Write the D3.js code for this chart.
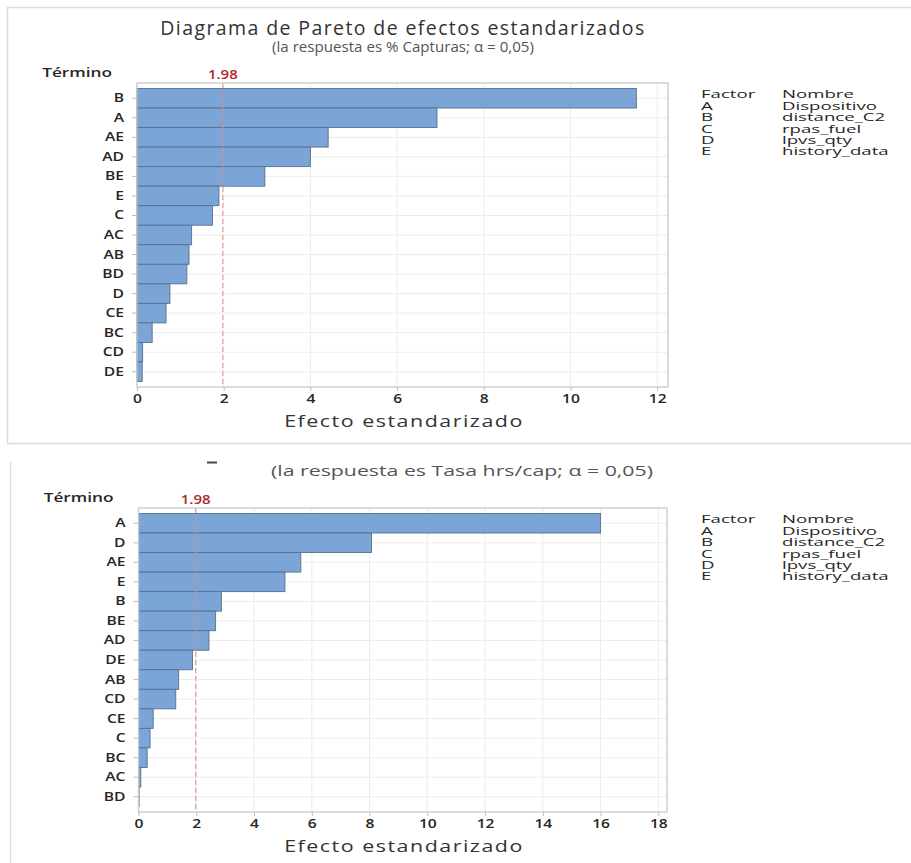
<!DOCTYPE html>
<html>
<head>
<meta charset="utf-8">
<script src="https://cdn.jsdelivr.net/npm/d3@7"></script>
<style>
  html, body { margin: 0; padding: 0; background: #ffffff; }
  svg { display: block; font-family: "Open Sans", "Noto Sans", sans-serif; }
</style>
</head>
<body>
<svg id="chart" width="911" height="863"></svg>
<script>
// Pareto of standardized effects, two responses
const termsCapturas = ["B", "A", "AE", "AD", "BE", "E", "C", "AC", "AB", "BD", "D", "CE", "BC", "CD", "DE"];
const effectsCapturas = [11.52, 6.92, 4.41, 4.0, 2.95, 1.89, 1.74, 1.26, 1.2, 1.15, 0.76, 0.67, 0.35, 0.13, 0.12];
const ticksCapturas = [0, 2, 4, 6, 8, 10, 12];

const termsTasa = ["A", "D", "AE", "E", "B", "BE", "AD", "DE", "AB", "CD", "CE", "C", "BC", "AC", "BD"];
const effectsTasa = [16.0, 8.07, 5.62, 5.07, 2.87, 2.67, 2.44, 1.87, 1.39, 1.29, 0.51, 0.4, 0.3, 0.08, 0.02];
const ticksTasa = [0, 2, 4, 6, 8, 10, 12, 14, 16, 18];

const criticalValue = 1.98;

const factorCodes = ["A", "B", "C", "D", "E"];
const factorNames = ["Dispositivo", "distance_C2", "rpas_fuel", "lpvs_qty", "history_data"];

const svg = d3.select("#chart");

const BAR_FILL = "#7ba5d7";
const BAR_STROKE = "#56708f";
const GRID = "#ececec";
const FRAME = "#c9c9c9";
const TEXT = "#262626";
const RED = "#b02a2a";

// widen text horizontally around its own anchor point
function widen(sel, sx) {
  sel.each(function () {
    const t = d3.select(this);
    const x0 = +t.attr("x") || 0;
    t.attr("transform", `matrix(${sx},0,0,1,${x0 * (1 - sx)},0)`);
  });
  return sel;
}

// panel outlines
svg.append("path")
  .attr("d", "M911,7.5 H7.5 V443.5 H911")
  .attr("fill", "none").attr("stroke", "#dcdcdc").attr("stroke-width", 1.5);
svg.append("line")
  .attr("x1", 10.5).attr("x2", 10.5).attr("y1", 462).attr("y2", 863)
  .attr("stroke", "#dcdcdc").attr("stroke-width", 1.5);

// titles
svg.append("text")
  .attr("x", 403).attr("y", 35)
  .attr("text-anchor", "middle")
  .attr("font-size", 19.5).attr("letter-spacing", 1.4)
  .attr("fill", "#333").text("Diagrama de Pareto de efectos estandarizados");
widen(svg.append("text")
  .attr("x", 403).attr("y", 52)
  .attr("text-anchor", "middle")
  .attr("font-size", 14).attr("fill", "#555")
  .text("(la respuesta es % Capturas; α = 0,05)"), 1.08);

// clipped remnant of the second panel's heading
svg.append("rect")
  .attr("x", 207).attr("y", 461.5).attr("width", 10).attr("height", 2)
  .attr("fill", "#444");
widen(svg.append("text")
  .attr("x", 462).attr("y", 476.5)
  .attr("text-anchor", "middle")
  .attr("font-size", 15).attr("fill", "#555")
  .text("(la respuesta es Tasa hrs/cap; α = 0,05)"), 1.42);

function drawPanel(cfg) {
  const { terms, effects, ticks, xMax, left, right, top, bottom } = cfg;
  const g = svg.append("g");

  const x = d3.scaleLinear().domain([0, xMax]).range([left, right]);
  const y = d3.scaleBand().domain(terms).range([top, bottom])
    .paddingInner(0).paddingOuter(0.28);

  // grid
  g.append("g").selectAll("line").data(ticks).join("line")
    .attr("x1", d => x(d)).attr("x2", d => x(d))
    .attr("y1", top).attr("y2", bottom)
    .attr("stroke", GRID).attr("stroke-width", 1);
  g.append("g").selectAll("line").data(terms).join("line")
    .attr("x1", left).attr("x2", right)
    .attr("y1", d => y(d) + y.bandwidth() / 2).attr("y2", d => y(d) + y.bandwidth() / 2)
    .attr("stroke", GRID).attr("stroke-width", 1);

  // bars
  g.append("g").selectAll("rect").data(terms).join("rect")
    .attr("x", x(0))
    .attr("y", d => y(d))
    .attr("width", (d, i) => x(effects[i]) - x(0))
    .attr("height", y.bandwidth())
    .attr("fill", BAR_FILL)
    .attr("stroke", BAR_STROKE).attr("stroke-width", 0.9);

  // reference line
  g.append("line")
    .attr("x1", x(criticalValue)).attr("x2", x(criticalValue))
    .attr("y1", top).attr("y2", bottom)
    .attr("stroke", "#e38a8a").attr("stroke-width", 1)
    .attr("stroke-dasharray", "5,3");
  widen(g.append("text")
    .attr("x", x(criticalValue)).attr("y", top - 3.5)
    .attr("text-anchor", "middle")
    .attr("font-size", 12.5).attr("font-weight", 600).attr("fill", RED)
    .text(criticalValue.toFixed(2)), 1.2);

  // frame
  g.append("rect")
    .attr("x", left).attr("y", top)
    .attr("width", right - left).attr("height", bottom - top)
    .attr("fill", "none").attr("stroke", FRAME).attr("stroke-width", 1.3);

  // y axis
  const yAxis = g.append("g")
    .attr("transform", `translate(${left},0)`)
    .call(d3.axisLeft(y).tickSize(5).tickPadding(8));
  yAxis.select(".domain").remove();
  yAxis.selectAll(".tick line").attr("stroke", "#bdbdbd");
  widen(yAxis.selectAll(".tick text")
    .attr("font-family", "'Open Sans', sans-serif")
    .attr("font-size", 12.5).attr("font-weight", 600).attr("fill", TEXT), 1.25);

  widen(g.append("text")
    .attr("x", left - 25).attr("y", top - 6)
    .attr("text-anchor", "end")
    .attr("font-size", 12.5).attr("font-weight", 600).attr("fill", TEXT)
    .text("Término"), 1.38);

  // x axis
  const xAxis = g.append("g")
    .attr("transform", `translate(0,${bottom})`)
    .call(d3.axisBottom(x).tickValues(ticks).tickSize(4).tickPadding(3)
      .tickFormat(d3.format("d")));
  xAxis.select(".domain").remove();
  xAxis.selectAll(".tick line").attr("stroke", "#bdbdbd");
  widen(xAxis.selectAll(".tick text")
    .attr("font-family", "'Open Sans', sans-serif")
    .attr("font-size", 13).attr("font-weight", 600).attr("fill", TEXT), 1.2);

  widen(g.append("text")
    .attr("x", 404).attr("y", bottom + 40)
    .attr("text-anchor", "middle")
    .attr("font-size", 17).attr("font-weight", 500).attr("letter-spacing", 1.2)
    .attr("fill", "#333")
    .text("Efecto estandarizado"), 1.26);

  // factor legend
  const lg = g.append("g").attr("font-size", 11.5).attr("fill", TEXT);
  const ly = top + 15.5;
  const lh = 11.4;
  const rows = [["Factor", "Nombre"]].concat(factorCodes.map((c, i) => [c, factorNames[i]]));
  rows.forEach((r, i) => {
    widen(lg.append("text").attr("x", 701).attr("y", ly + lh * i).text(r[0]), 1.62);
    widen(lg.append("text").attr("x", 782).attr("y", ly + lh * i).text(r[1]), 1.62);
  });
}

drawPanel({
  terms: termsCapturas, effects: effectsCapturas, ticks: ticksCapturas,
  xMax: 12.25, left: 137, right: 668, top: 83, bottom: 387
});

drawPanel({
  terms: termsTasa, effects: effectsTasa, ticks: ticksTasa,
  xMax: 18.3, left: 138.5, right: 667, top: 508, bottom: 812
});
</script>
</body>
</html>
